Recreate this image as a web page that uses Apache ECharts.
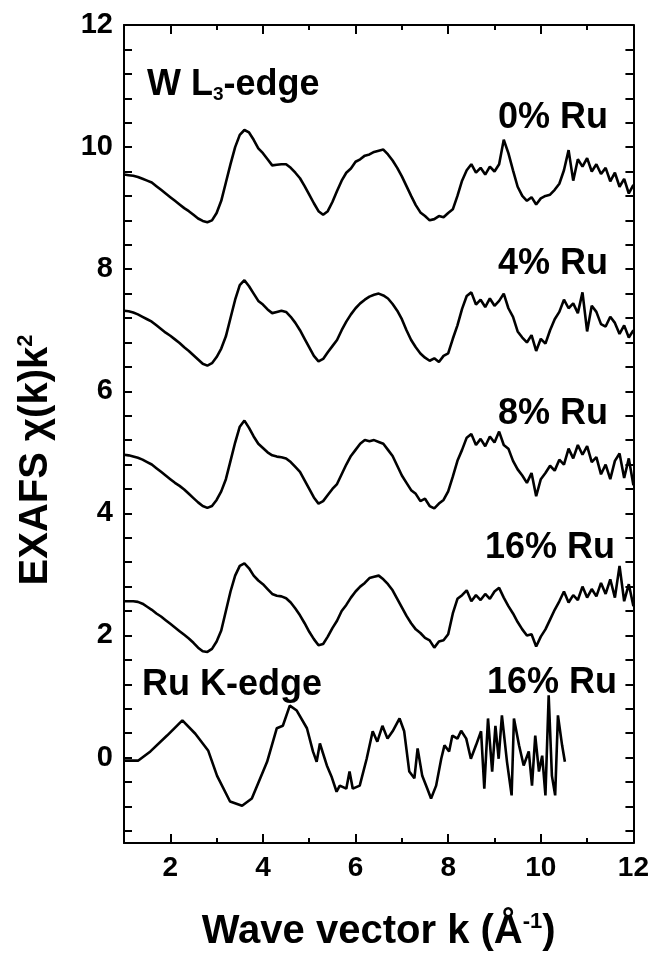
<!DOCTYPE html>
<html>
<head>
<meta charset="utf-8">
<script src="https://cdn.jsdelivr.net/npm/echarts@6/dist/echarts.min.js"></script>
<style>
  html, body { margin: 0; padding: 0; background: #fff; }
  #chart { width: 652px; height: 957px; }
</style>
</head>
<body>
<div id="chart"></div>
<script>
// wave vector grid used by the W L3-edge spectra
const kW = [1.0, 1.1, 1.2, 1.3, 1.4, 1.5, 1.6, 1.7, 1.8, 1.9,
  2.0, 2.1, 2.2, 2.3, 2.4, 2.5, 2.6, 2.7, 2.8, 2.9,
  3.0, 3.1, 3.2, 3.3, 3.4, 3.5, 3.6, 3.7, 3.8, 3.9,
  4.0, 4.1, 4.2, 4.3, 4.4, 4.5, 4.6, 4.7, 4.8, 4.9,
  5.0, 5.1, 5.2, 5.3, 5.4, 5.5, 5.6, 5.7, 5.8, 5.9,
  6.0, 6.1, 6.2, 6.3, 6.4, 6.5, 6.6, 6.7, 6.8, 6.9,
  7.0, 7.1, 7.2, 7.3, 7.4, 7.5, 7.6, 7.7, 7.8, 7.9,
  8.0, 8.1, 8.2, 8.3, 8.4, 8.5, 8.6, 8.7, 8.8, 8.9,
  9.0, 9.1, 9.2, 9.3, 9.4, 9.5, 9.6, 9.7, 9.8, 9.9,
  10.0, 10.1, 10.2, 10.3, 10.4, 10.5, 10.6, 10.7, 10.8, 10.9,
  11.0, 11.1, 11.2, 11.3, 11.4, 11.5, 11.6, 11.7, 11.8, 11.9, 12.0];

const w0 = [9.55, 9.54, 9.53, 9.51, 9.48, 9.45, 9.42, 9.36, 9.30, 9.24,
  9.18, 9.12, 9.06, 9.00, 8.95, 8.89, 8.83, 8.79, 8.77, 8.80,
  8.92, 9.12, 9.42, 9.72, 10.00, 10.20, 10.28, 10.24, 10.12, 9.98,
  9.90, 9.80, 9.70, 9.71, 9.72, 9.72, 9.66, 9.58, 9.49, 9.36,
  9.22, 9.08, 8.95, 8.89, 8.95, 9.10, 9.28, 9.45, 9.58, 9.65,
  9.76, 9.80, 9.86, 9.88, 9.92, 9.94, 9.96, 9.88, 9.78, 9.66,
  9.52, 9.36, 9.20, 9.05, 8.93, 8.87, 8.80, 8.82, 8.87, 8.85,
  8.92, 8.98, 9.20, 9.45, 9.62, 9.72, 9.58, 9.66, 9.55, 9.68,
  9.60, 9.72, 10.12, 9.90, 9.62, 9.35, 9.20, 9.12, 9.18, 9.06,
  9.16, 9.20, 9.22, 9.30, 9.40, 9.62, 9.95, 9.45, 9.80, 9.68,
  9.82, 9.60, 9.72, 9.56, 9.66, 9.44, 9.58, 9.35, 9.48, 9.24, 9.38];

const w4 = [7.32, 7.31, 7.29, 7.26, 7.22, 7.18, 7.14, 7.08, 7.02, 6.96,
  6.91, 6.85, 6.79, 6.72, 6.66, 6.59, 6.52, 6.45, 6.42, 6.46,
  6.56, 6.70, 6.90, 7.20, 7.50, 7.74, 7.82, 7.72, 7.60, 7.48,
  7.42, 7.34, 7.28, 7.30, 7.32, 7.30, 7.22, 7.12, 7.00, 6.86,
  6.72, 6.58, 6.49, 6.53, 6.64, 6.74, 6.84, 7.00, 7.14, 7.26,
  7.36, 7.44, 7.50, 7.55, 7.58, 7.60, 7.57, 7.52, 7.43, 7.32,
  7.18, 7.00, 6.84, 6.72, 6.62, 6.55, 6.50, 6.54, 6.48, 6.58,
  6.62, 6.86, 7.08, 7.35, 7.56, 7.62, 7.42, 7.50, 7.38, 7.52,
  7.40, 7.48, 7.60, 7.36, 7.22, 6.98, 6.88, 6.80, 6.92, 6.66,
  6.86, 6.78, 7.00, 7.18, 7.30, 7.50, 7.36, 7.44, 7.28, 7.62,
  6.98, 7.40, 7.30, 7.10, 7.06, 7.22, 7.12, 6.94, 7.08, 6.88, 7.00];

const w8 = [4.96, 4.95, 4.93, 4.91, 4.88, 4.84, 4.80, 4.74, 4.68, 4.62,
  4.56, 4.50, 4.45, 4.39, 4.32, 4.25, 4.18, 4.12, 4.09, 4.12,
  4.22, 4.36, 4.56, 4.86, 5.16, 5.42, 5.52, 5.40, 5.26, 5.14,
  5.07, 5.00, 4.95, 4.93, 4.92, 4.90, 4.84, 4.76, 4.68, 4.54,
  4.40, 4.26, 4.16, 4.20, 4.30, 4.40, 4.48, 4.64, 4.80, 4.94,
  5.04, 5.14, 5.20, 5.18, 5.20, 5.17, 5.14, 5.04, 4.94, 4.78,
  4.62, 4.50, 4.38, 4.32, 4.20, 4.24, 4.12, 4.08, 4.16, 4.22,
  4.36, 4.60, 4.86, 5.04, 5.24, 5.30, 5.12, 5.22, 5.10, 5.26,
  5.16, 5.34, 5.12, 5.06, 4.86, 4.72, 4.62, 4.50, 4.66, 4.28,
  4.56, 4.66, 4.78, 4.70, 4.88, 4.80, 5.06, 4.90, 5.12, 4.96,
  5.10, 4.84, 4.92, 4.64, 4.80, 4.56, 4.86, 4.98, 4.58, 4.90, 4.46];

const w16 = [2.56, 2.56, 2.56, 2.55, 2.52, 2.47, 2.42, 2.36, 2.31, 2.25,
  2.19, 2.13, 2.07, 2.01, 1.95, 1.88, 1.80, 1.74, 1.73, 1.78,
  1.90, 2.08, 2.40, 2.72, 2.98, 3.14, 3.18, 3.10, 2.98, 2.90,
  2.84, 2.76, 2.68, 2.65, 2.64, 2.61, 2.54, 2.44, 2.33, 2.20,
  2.06, 1.94, 1.84, 1.86, 1.98, 2.12, 2.24, 2.40, 2.50, 2.62,
  2.72, 2.80, 2.86, 2.94, 2.96, 2.98, 2.92, 2.84, 2.74, 2.60,
  2.46, 2.32, 2.20, 2.10, 2.04, 1.96, 1.92, 1.80, 1.90, 1.92,
  2.02, 2.36, 2.60, 2.66, 2.74, 2.56, 2.66, 2.58, 2.68, 2.60,
  2.72, 2.78, 2.62, 2.48, 2.36, 2.22, 2.10, 2.00, 2.02, 1.82,
  1.98, 2.10, 2.26, 2.42, 2.56, 2.72, 2.54, 2.66, 2.58, 2.80,
  2.62, 2.76, 2.64, 2.86, 2.68, 2.92, 2.62, 3.14, 2.56, 2.84, 2.48];

// Ru K-edge spectrum (16% Ru), read point by point
const kRu = [1.0, 1.07, 1.31, 1.57, 1.93, 2.26, 2.54, 2.82, 3.01, 3.29,
  3.55, 3.76, 4.09, 4.30, 4.43, 4.58, 4.73, 4.95, 5.08, 5.16,
  5.23, 5.38, 5.48, 5.59, 5.66, 5.80, 5.87, 5.94, 6.09, 6.24,
  6.37, 6.47, 6.58, 6.69, 6.80, 6.95, 7.05, 7.16, 7.27, 7.34,
  7.44, 7.55, 7.63, 7.74, 7.85, 7.92, 8.02, 8.09, 8.20, 8.28,
  8.39, 8.49, 8.60, 8.71, 8.78, 8.86, 8.95, 9.02, 9.09, 9.16,
  9.27, 9.37, 9.42, 9.53, 9.63, 9.74, 9.81, 9.88, 9.96, 10.03,
  10.10, 10.17, 10.24, 10.31, 10.37, 10.46, 10.52];
const yRu = [-0.05, -0.05, -0.05, 0.10, 0.36, 0.61, 0.39, 0.11, -0.30, -0.72,
  -0.79, -0.67, -0.07, 0.48, 0.52, 0.85, 0.77, 0.48, 0.10, -0.07,
  0.23, -0.13, -0.31, -0.56, -0.46, -0.51, -0.23, -0.51, -0.46, -0.02,
  0.43, 0.26, 0.52, 0.31, 0.43, 0.64, 0.43, -0.23, -0.34, 0.15,
  -0.30, -0.51, -0.67, -0.46, -0.02, 0.20, 0.10, 0.36, 0.31, 0.44,
  0.31, -0.02, 0.20, 0.43, -0.51, 0.64, -0.23, 0.52, -0.02, 0.69,
  -0.07, -0.62, 0.64, 0.20, -0.13, 0.10, -0.46, 0.36, -0.23, 0.03,
  -0.62, 1.02, -0.30, -0.62, 0.69, 0.20, -0.07];

// axis ticks and labels
const xLabels = [2, 4, 6, 8, 10, 12];
const xMinorTicks = [1, 3, 5, 7, 9, 11];
const yLabels = [0, 2, 4, 6, 8, 10, 12];
const yTicks = [-1.2, -0.8, -0.4, 0, 0.4, 0.8, 1.2, 1.6, 2, 2.4, 2.8, 3.2, 3.6, 4,
  4.4, 4.8, 5.2, 5.6, 6, 6.4, 6.8, 7.2, 7.6, 8, 8.4, 8.8, 9.2, 9.6, 10,
  10.4, 10.8, 11.2, 11.6, 12];

const FONT = '"Liberation Sans", Arial, sans-serif';
const black = '#000';

function pairs(xs, ys) {
  return xs.map((x, i) => [x, ys[i]]);
}

function lineSeries(name, data) {
  return {
    name: name,
    type: 'line',
    data: data,
    showSymbol: false,
    symbol: 'none',
    lineStyle: { color: black, width: 2.6 },
    xAxisIndex: 0,
    yAxisIndex: 0,
    z: 3
  };
}

function xAx(position, ticks, len, showLine, showLabel) {
  return {
    type: 'value',
    position: position,
    min: 1,
    max: 12,
    axisLine: { show: showLine, onZero: false, lineStyle: { color: black, width: 2 } },
    axisTick: { show: true, inside: true, length: len, customValues: ticks, lineStyle: { color: black, width: 2 } },
    axisLabel: {
      show: showLabel,
      customValues: xLabels,
      color: black,
      fontFamily: FONT,
      fontWeight: 'bold',
      fontSize: 28,
      margin: 11
    },
    splitLine: { show: false }
  };
}

function yAx(position, showLabel) {
  return {
    type: 'value',
    position: position,
    min: -1.4,
    max: 12,
    axisLine: { show: true, onZero: false, lineStyle: { color: black, width: 2 } },
    axisTick: { show: true, inside: true, length: 8, customValues: yTicks, lineStyle: { color: black, width: 2 } },
    axisLabel: {
      show: showLabel,
      customValues: yLabels,
      color: black,
      fontFamily: FONT,
      fontWeight: 'bold',
      fontSize: 29,
      margin: 11
    },
    splitLine: { show: false }
  };
}

const chart = echarts.init(document.getElementById('chart'), null, { renderer: 'canvas' });

const xMain = xAx('bottom', xLabels, 9, true, true);
xMain.name = 'Wave vector k (Å{sup|-1})';
xMain.nameLocation = 'middle';
xMain.nameGap = 68;
xMain.nameTextStyle = {
  color: black, fontFamily: FONT, fontWeight: 'bold', fontSize: 40,
  rich: { sup: { fontFamily: FONT, fontWeight: 'bold', fontSize: 22, verticalAlign: 'top', padding: [0, 0, 20, 0], color: black } }
};

function label(text, pos) {
  return Object.assign({ type: 'text', z: 10, style: { text: text, fill: black, font: 'bold 36px ' + FONT } }, pos);
}

const option = {
  animation: false,
  backgroundColor: '#fff',
  grid: { left: 124, right: 18, top: 25, bottom: 112, containLabel: false },
  xAxis: [
    xMain,
    xAx('bottom', xMinorTicks, 5, false, false),
    xAx('top', xLabels, 9, true, false),
    xAx('top', xMinorTicks, 5, false, false)
  ],
  yAxis: [yAx('left', true), yAx('right', false)],
  series: [
    lineSeries('0% Ru', pairs(kW, w0)),
    lineSeries('4% Ru', pairs(kW, w4)),
    lineSeries('8% Ru', pairs(kW, w8)),
    lineSeries('16% Ru', pairs(kW, w16)),
    lineSeries('Ru K-edge 16% Ru', pairs(kRu, yRu))
  ],
  graphic: [
    {
      type: 'text', x: 36, y: 460, rotation: Math.PI / 2, z: 10,
      style: {
        text: 'EXAFS χ(k)k{sup|2}', fill: black, font: 'bold 40px ' + FONT,
        align: 'center', verticalAlign: 'middle',
        rich: { sup: { fontSize: 22, fontWeight: 'bold', fontFamily: FONT, padding: [0, 0, 20, 0], fill: black } }
      }
    },
    {
      type: 'text', left: 147, top: 67, z: 10,
      style: {
        text: 'W L{sub|3}-edge', fill: black, font: 'bold 36px ' + FONT,
        rich: { sub: { fontSize: 19, fontWeight: 'bold', fontFamily: FONT, padding: [20, 0, 0, 0], fill: black } }
      }
    },
    label('0% Ru', { right: 44, top: 100 }),
    label('4% Ru', { right: 44, top: 246 }),
    label('8% Ru', { right: 44, top: 396 }),
    label('16% Ru', { right: 37, top: 530 }),
    label('Ru K-edge', { left: 142, top: 667 }),
    label('16% Ru', { right: 35, top: 665 })
  ]
};

chart.setOption(option);
</script>
</body>
</html>
